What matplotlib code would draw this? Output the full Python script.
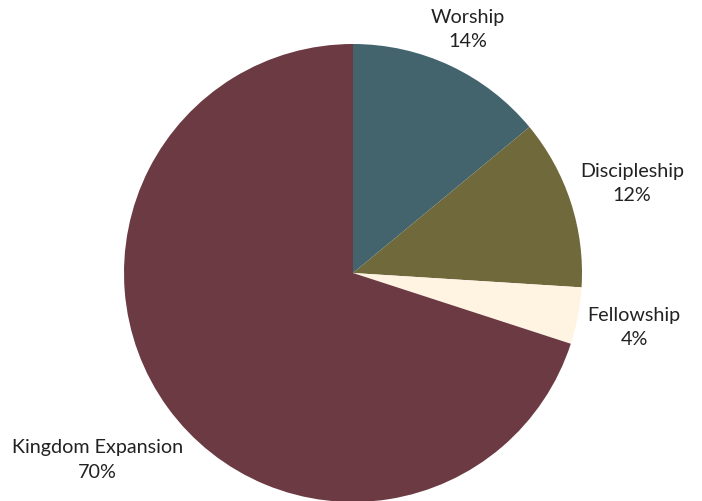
import numpy as np
import matplotlib
matplotlib.use("Agg")
import matplotlib.pyplot as plt

labels = ["Worship", "Discipleship", "Fellowship", "Kingdom Expansion"]
values = [14, 12, 4, 70]
colors = ["#44646D", "#6F693C", "#FFF3E2", "#6B3A42"]
label_dist = [1.18, 1.28, 1.25, 1.38]

plt.rcParams['font.family'] = ['Lato', 'DejaVu Sans']

fig = plt.figure(figsize=(7.02, 5.02), dpi=100)
ax = fig.add_axes([0, 0, 1, 1])

cx, cy, r = 353, 502 - 274, 229
wedges, _ = ax.pie(values, colors=colors, startangle=90, counterclock=False,
                   center=(cx, cy), radius=r, frame=True,
                   wedgeprops=dict(linewidth=0))
ax.set_xlim(0, 702)
ax.set_ylim(0, 502)
ax.set_aspect('equal')
ax.axis('off')

for w, lab, v, d in zip(wedges, labels, values, label_dist):
    ang = np.deg2rad((w.theta1 + w.theta2) / 2)
    x = cx + d * r * np.cos(ang)
    y = cy + d * r * np.sin(ang)
    ax.text(x, y, f"{lab}\n{v}%", ha='center', va='center', fontsize=14.2,
            color='#222222', linespacing=1.55)

fig.savefig("out.png", dpi=100)
